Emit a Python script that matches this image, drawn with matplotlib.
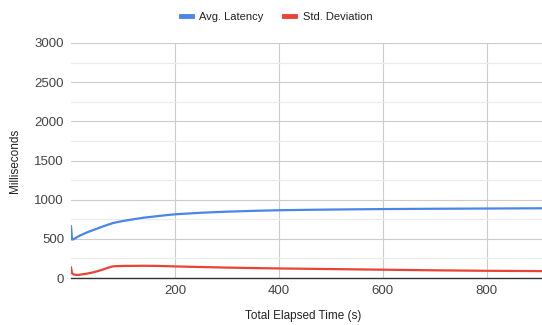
import matplotlib
matplotlib.use("Agg")
import matplotlib.pyplot as plt
from matplotlib.ticker import MultipleLocator

plt.rcParams['font.family'] = ['Liberation Sans', 'DejaVu Sans']

# elapsed time (s) and latency values
elapsed = [0, 2, 5, 10, 15, 20, 30, 40, 50, 60, 70, 80, 90, 100, 120, 140, 160,
           180, 200, 250, 300, 350, 400, 450, 500, 600, 700, 800, 906]
avg_latency = [660, 490, 495, 515, 535, 550, 580, 605, 630, 655, 678, 700, 715,
               728, 750, 770, 785, 800, 813, 833, 847, 857, 865, 870, 874, 880,
               884, 887, 890]
std_dev = [135, 60, 45, 40, 40, 45, 55, 68, 85, 105, 128, 148, 152, 154, 155,
           156, 155, 152, 148, 140, 133, 127, 122, 118, 114, 106, 98, 92, 88]

x_ticks = [200, 400, 600, 800]
y_ticks = [0, 500, 1000, 1500, 2000, 2500, 3000]

fig = plt.figure(figsize=(5.42, 3.25), dpi=100)
ax = fig.add_axes([0.131, 0.1446, 0.869, 0.7231])

ax.plot(elapsed, avg_latency, color="#4a86e8", lw=1.6, label="Avg. Latency")
ax.plot(elapsed, std_dev, color="#ea4335", lw=1.6, label="Std. Deviation")

ax.set_xlim(0, 906)
ax.set_ylim(0, 3000)
ax.set_xticks(x_ticks)
ax.set_yticks(y_ticks)
ax.yaxis.set_minor_locator(MultipleLocator(250))
ax.grid(True, which="major", color="#cccccc", lw=0.8)
ax.grid(True, which="minor", axis="y", color="#ebebeb", lw=0.8)
ax.set_axisbelow(True)
for s in ["top", "right", "left"]:
    ax.spines[s].set_visible(False)
ax.spines["bottom"].set_color("#333333")
ax.spines["bottom"].set_linewidth(1.0)
ax.tick_params(which="both", length=0, colors="#444444", labelsize=9.5, pad=5)

fig.text(0.028, 0.505, "Milliseconds", rotation=90, ha="center", va="center",
         fontsize=8.5, color="#222222")
fig.text(0.56, 0.028, "Total Elapsed Time (s)", ha="center", va="center",
         fontsize=8.5, color="#222222")

fig.legend(loc="center", bbox_to_anchor=(0.51, 0.947), ncol=2, frameon=False,
           fontsize=8, handlelength=1.0, handletextpad=0.7, columnspacing=1.8,
           labelcolor="#222222")
for h in fig.legends[0].get_lines():
    h.set_linewidth(3.5)

fig.savefig("out.png", dpi=100)
